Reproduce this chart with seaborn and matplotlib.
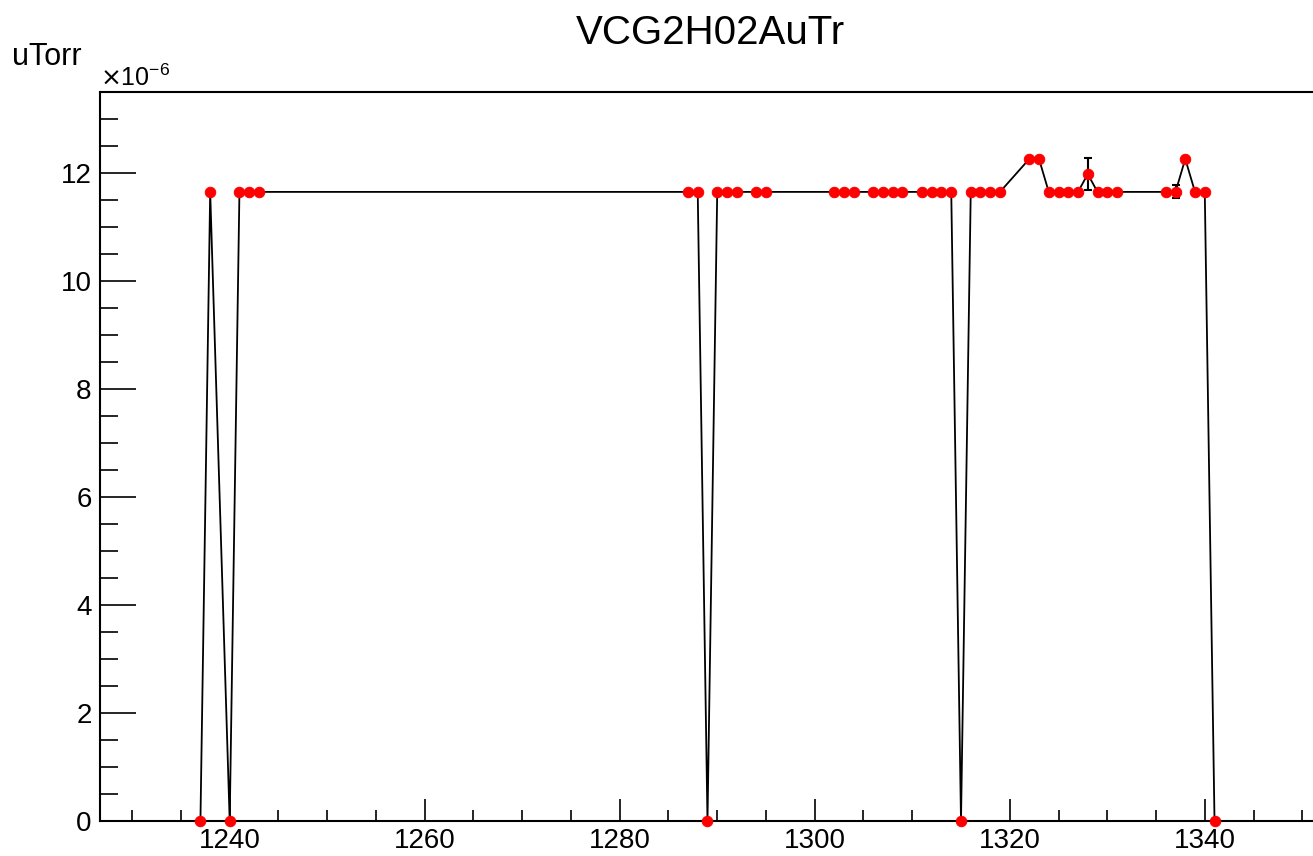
import matplotlib
matplotlib.use("Agg")
import matplotlib.pyplot as plt
import numpy as np
import pandas as pd
import seaborn as sns
from matplotlib.ticker import MultipleLocator

# run number vs gauge pressure (units of 1e-6 Torr)
runs = [1237, 1238, 1240, 1241, 1242, 1243,
        1287, 1288, 1289, 1290, 1291, 1292, 1294, 1295,
        1302, 1303, 1304, 1306, 1307, 1308, 1309, 1311, 1312, 1313, 1314,
        1315, 1316, 1317, 1318, 1319, 1322, 1323, 1324, 1325, 1326, 1327,
        1328, 1329, 1330, 1331, 1336, 1337, 1338, 1339, 1340, 1341]
pressure = [0.0, 11.65, 0.0, 11.65, 11.65, 11.65,
            11.65, 11.65, 0.0, 11.65, 11.65, 11.65, 11.65, 11.65,
            11.65, 11.65, 11.65, 11.65, 11.65, 11.65, 11.65, 11.65, 11.65, 11.65, 11.65,
            0.0, 11.65, 11.65, 11.65, 11.65, 12.26, 12.26, 11.65, 11.65, 11.65, 11.65,
            11.98, 11.65, 11.65, 11.65, 11.65, 11.65, 12.26, 11.65, 11.65, 0.0]
err_runs = [1328, 1337]
err_vals = [11.98, 11.65]
err_size = [0.30, 0.12]

df = pd.DataFrame({"run": runs, "p": pressure})

sns.set_style("white")
plt.rcParams["font.family"] = ["Liberation Sans", "DejaVu Sans"]
plt.rcParams["text.color"] = "black"
plt.rcParams["xtick.color"] = "black"
plt.rcParams["ytick.color"] = "black"

fig = plt.figure(figsize=(13.13, 8.56), dpi=100)
ax = fig.add_axes([100 / 1313, 35 / 856, 1213 / 1313, (821 - 92) / 856])

ax.errorbar(err_runs, err_vals, yerr=err_size, fmt="none", ecolor="black",
            elinewidth=1.5, capsize=3, capthick=1.5, zorder=2)
sns.lineplot(data=df, x="run", y="p", ax=ax, color="black", linewidth=1.3,
             marker="o", markersize=7.5, markerfacecolor="red",
             markeredgecolor="red", estimator=None, sort=False, zorder=3,
             clip_on=False)

ax.set_xlim(1226.7, 1351.1)
ax.set_ylim(0, 13.5)
ax.set_xlabel("")
ax.set_ylabel("")
ax.xaxis.set_major_locator(MultipleLocator(20))
ax.xaxis.set_minor_locator(MultipleLocator(5))
ax.yaxis.set_major_locator(MultipleLocator(2))
ax.yaxis.set_minor_locator(MultipleLocator(0.5))
ax.tick_params(axis="x", which="major", direction="in", length=16, width=1.2,
               labelsize=20, pad=5, bottom=True, top=False)
ax.tick_params(axis="x", which="minor", direction="in", length=8, width=1.2,
               bottom=True, top=False)
ax.tick_params(axis="y", which="major", direction="in", length=26, width=1.2,
               labelsize=20, pad=6, left=True, right=False)
ax.tick_params(axis="y", which="minor", direction="in", length=13, width=1.2,
               left=True, right=False)
for s in ["left", "bottom", "top"]:
    ax.spines[s].set_linewidth(1.5)
    ax.spines[s].set_color("black")
ax.spines["right"].set_visible(False)

fig.text(710 / 1313, 1 - 33 / 856, "VCG2H02AuTr", ha="center", va="center", fontsize=29)
fig.text(12 / 1313, 1 - 57 / 856, "uTorr", ha="left", va="center", fontsize=22)
fig.text(100 / 1313, 1 - 78 / 856, r"$\times$10$^{\mathregular{-6}}$", ha="left",
         va="center", fontsize=18)

fig.savefig("out.png", dpi=100)
